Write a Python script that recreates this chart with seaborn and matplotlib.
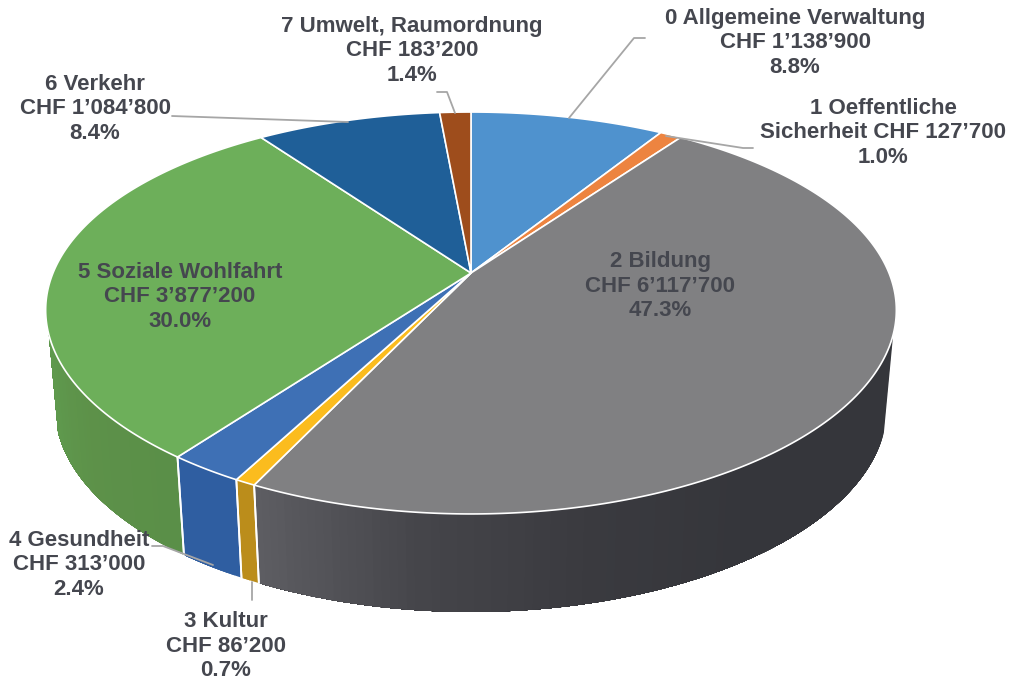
import numpy as np
import seaborn as sns
from matplotlib import pyplot as plt

# Budget per function (CHF)
names = ["0 Allgemeine Verwaltung", "1 Oeffentliche\nSicherheit", "2 Bildung", "3 Kultur",
         "4 Gesundheit", "5 Soziale Wohlfahrt", "6 Verkehr", "7 Umwelt, Raumordnung"]
amounts = [1138900, 127700, 6117700, 86200, 313000, 3877200, 1084800, 183200]
percents = [8.8, 1.0, 47.3, 0.7, 2.4, 30.0, 8.4, 1.4]

top_colors = ["#4f92ce", "#ed8440", "#808082", "#fbbc1e", "#3e70b5", "#6daf5a", "#1f5f98", "#9e4d1c"]
side_colors = [["#3f77aa", "#3f77aa"], ["#b9642c", "#b9642c"],
               ["#35363b", "#35363b", "#35363b", "#3a3a3f", "#45454a", "#5d5d62"],
               ["#bb8d1b", "#bb8d1b"], ["#2f5ea1", "#2f5ea1"],
               ["#5a8f48", "#5d9149", "#5f9a4e"], ["#174a76", "#174a76"], ["#7a3a14", "#7a3a14"]]

# Where the labels sit, in picture pixels
label_pos = [(795, 43), (883, 133), (660, 286), (226, 646), (79, 565), (180, 297), (95, 109), (412, 51)]

# Leader lines
leaders = [[(569, 118), (634, 38), (645, 38)],
           [(666, 136), (743, 148), (753, 148)],
           [(252, 582), (252, 600)],
           [(152, 546), (163, 546), (213, 565)],
           [(172, 116), (348, 122)],
           [(437, 92), (447, 92), (455, 113)]]

# Perspective of the disc
cx, cy = 471, 273
k = 0.199
k_x = 0.185  # slightly less taper across, fits the slice edges better
a = 193
b = 418
depth = 98
shrink = 0.978
text_color = "#45474f"


def rim(theta, radius=1.0):
    # theta runs clockwise from 12 o'clock
    u = radius * np.sin(theta)
    v = radius * np.cos(theta)
    return cx + b * u / (1 + k_x * v), cy - a * v / (1 + k * v)


def rim_low(theta):
    x, y = rim(theta)
    return cx + shrink * (x - cx), y + depth


def fmt_chf(val):
    return f"{val:,}".replace(",", "’")


sns.set_theme(style="white")
plt.rcParams["font.family"] = ["Liberation Sans", "DejaVu Sans"]

fig = plt.figure(figsize=(10.11, 6.82), dpi=100)
ax = fig.add_axes([0, 0, 1, 1])
ax.set_xlim(0, 1011)
ax.set_ylim(682, 0)
ax.axis("off")

shares = np.array(amounts) / np.sum(amounts)
edges = np.concatenate([[0], np.cumsum(shares)]) * 2 * np.pi

# Sides first, the visible front part of the rim only
front_start = np.arccos(-0.30)
front_end = 2 * np.pi - front_start
for i in range(len(amounts)):
    t0 = max(edges[i], front_start)
    t1 = min(edges[i + 1], front_end)
    if t1 <= t0:
        continue
    n = max(int((t1 - t0) * 60), 2)
    ts = np.linspace(t0, t1, n + 1)
    shades = sns.blend_palette(side_colors[i], n)
    for j in range(n):
        # each strip runs to the slice end, the next one paints over it, so no seams
        seg = ts[j:]
        xt, yt = rim(seg)
        xb, yb = rim_low(seg[::-1])
        ax.fill(np.r_[xt, xb], np.r_[yt, yb], color=shades[j], lw=0, zorder=2)
    # white seam where two slices meet on the side
    for t in (t0, t1):
        if t in (edges[i], edges[i + 1]):
            xt, yt = rim(t)
            xb, yb = rim_low(t)
            ax.plot([xt, xb], [yt, yb], color="white", lw=1.3, zorder=3)

# Top of the disc
for i in range(len(amounts)):
    ts = np.linspace(edges[i], edges[i + 1], max(int((edges[i + 1] - edges[i]) * 120), 4))
    x, y = rim(ts)
    ax.fill(np.r_[cx, x], np.r_[cy, y], facecolor=top_colors[i], edgecolor="white", lw=1.2,
            joinstyle="round", zorder=4)

# Labels
for i, (name, amount, pct) in enumerate(zip(names, amounts, percents)):
    if "\n" in name:
        text = f"{name} CHF {fmt_chf(amount)}\n{pct:.1f}%"
    else:
        text = f"{name}\nCHF {fmt_chf(amount)}\n{pct:.1f}%"
    ax.text(label_pos[i][0], label_pos[i][1], text, ha="center", va="center", color=text_color,
            fontsize=16, fontweight="bold", linespacing=1.2, zorder=6)

for line in leaders:
    xs, ys = zip(*line)
    ax.plot(xs, ys, color="#a6a6a6", lw=1.3, zorder=5)

fig.savefig("out.png", dpi=100)
